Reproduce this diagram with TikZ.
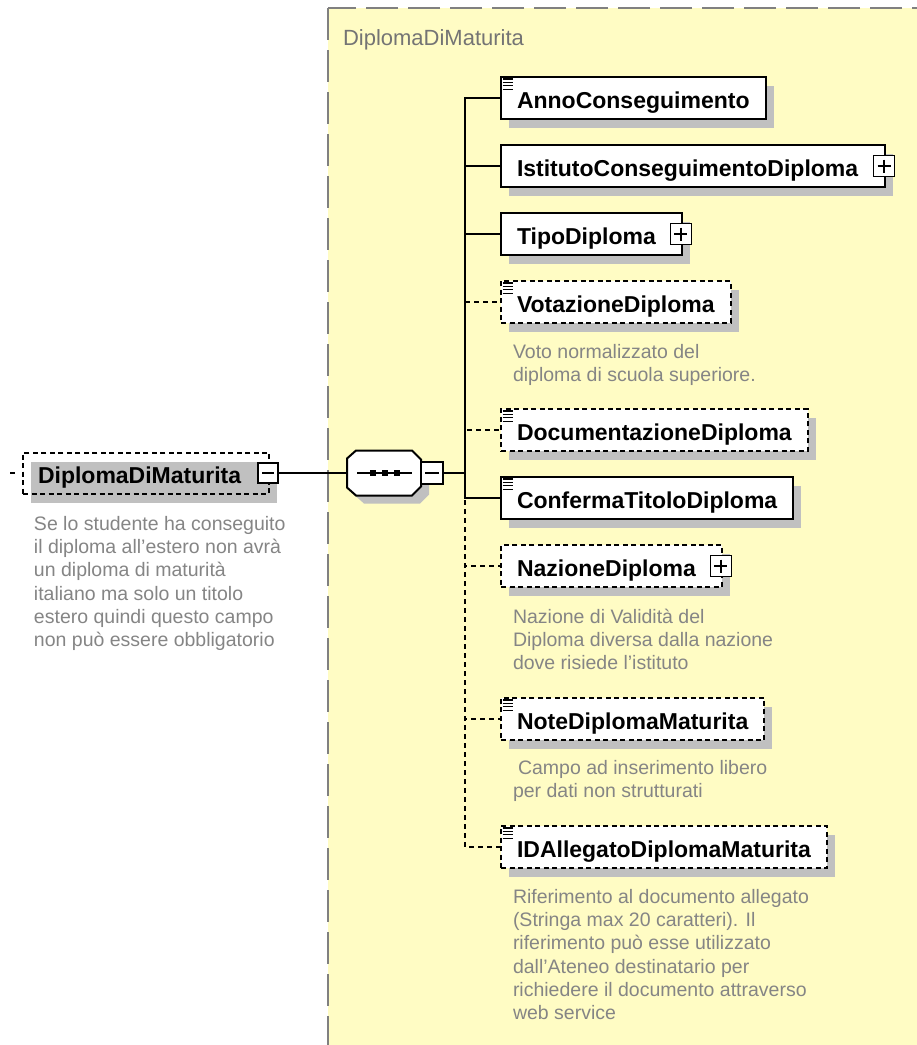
\documentclass[tikz,border=0pt]{standalone}
\usepackage{fontspec}
\setmainfont{Liberation Sans}
\usetikzlibrary{positioning,shadows}

\definecolor{boxyellow}{HTML}{FFFCC4}
\definecolor{shadowgray}{HTML}{C0C0C0}
\definecolor{descgray}{HTML}{858585}
\definecolor{framegray}{HTML}{808080}
\definecolor{titlegray}{HTML}{747474}

% little "documented" mark in the upper left corner of an element
\newcommand{\docicon}[1]{%
  \foreach \k in {0,...,3}
    \draw[line width=1.2pt] ([shift={(2.5,3+3.4*\k)}]#1.north west) -- ++(10,0);}

\begin{document}
\begin{tikzpicture}[x=1pt, y=-1pt, line width=2pt,
    elem/.style={draw, fill=white, anchor=west, minimum height=42pt,
      inner xsep=16pt, inner ysep=0pt, text height=20pt, text depth=0pt,
      font=\fontsize{23}{23}\selectfont\bfseries,
      general shadow={fill=shadowgray, shadow xshift=8pt, shadow yshift=-9pt}},
    optelem/.style={elem, dash pattern=on 5pt off 3.5pt},
    plusbox/.style={draw, fill=white, minimum size=21pt, inner sep=0pt, line width=1.5pt,
      path picture={
        \draw[line width=1.5pt] ([xshift=4pt]path picture bounding box.west) -- ([xshift=-4pt]path picture bounding box.east);
        \draw[line width=1.5pt] ([yshift=-4pt]path picture bounding box.north) -- ([yshift=4pt]path picture bounding box.south);}},
    minusbox/.style={draw, fill=white, minimum size=21pt, inner sep=0pt, line width=1.5pt,
      path picture={
        \draw[line width=1.5pt] ([xshift=4pt]path picture bounding box.west) -- ([xshift=-4pt]path picture bounding box.east);}},
    desc/.style={anchor=north west, inner sep=0pt, align=left, text=descgray,
      font=\fontsize{19.5}{23.3}\selectfont},
    boxtitle/.style={anchor=base west, inner sep=0pt, text=titlegray,
      font=\fontsize{22}{22}\selectfont}]

  \useasboundingbox (0,0) rectangle (917,1045);
  \fill[white] (0,0) rectangle (917,1045);
  \clip (0,0) rectangle (917,1045);

  % content model box
  \draw[framegray, fill=boxyellow, dash pattern=on 32pt off 10pt] (328,8) rectangle (950,1080);
  \node[boxtitle] (title) at (342,45) {DiplomaDiMaturita};

  % the element itself
  \coordinate (instub) at (10,473);
  \node[elem, fill=none, dash pattern=on 5pt off 3.5pt, minimum height=41pt, inner xsep=15pt] (main) at (22,473) {DiplomaDiMaturita\kern13pt};
  \node[minusbox, minimum size=20pt] (mainminus) at ([xshift=-2pt]main.east) {};
  \draw[dash pattern=on 5pt off 7pt] (instub) -- (main.west);
  \node[desc] (maindesc) at (33,515) {Se lo studente ha conseguito\\il diploma all'estero non avrà\\un diploma di maturità\\italiano ma solo un titolo\\estero quindi questo campo\\non può essere obbligatorio};

  % sequence
  \node[minimum width=74pt, minimum height=45pt, inner sep=0pt] (seq) at (384,473) {};
  \begin{scope}[shift={(seq.center)}]
    \filldraw[fill=white, general shadow={fill=shadowgray, shadow xshift=8pt, shadow yshift=-8pt}]
      (-28,-22.5) -- (28,-22.5) -- (37,-13.5) -- (37,13.5) -- (28,22.5)
      -- (-28,22.5) -- (-37,14.5) -- (-37,-14.5) -- cycle;
    \draw (-27,0) -- (28,0);
    \foreach \dx in {-11,1,13}
      \fill (\dx-3,-3) rectangle (\dx+3,3);
  \end{scope}
  \node[minusbox, minimum size=22pt] (seqminus) at (432,473) {};
  \coordinate (spine) at (465,473);
  \draw (mainminus.east) -- (seq.west);
  \draw (seqminus.east) -- (spine);

  % children
  \node[elem] (anno) at (500,98) {AnnoConseguimento};
  \node[elem] (ist) at (500,166) {IstitutoConseguimentoDiploma\kern11pt};
  \node[elem] (tipo) at (500,234) {TipoDiploma\kern10pt};
  \node[optelem] (vot) at (500,302) {VotazioneDiploma};
  \node[optelem] (doc) at (500,430) {DocumentazioneDiploma};
  \node[elem] (conf) at (500,498) {ConfermaTitoloDiploma};
  \node[optelem] (naz) at (500,566) {NazioneDiploma\kern10pt};
  \node[optelem] (note) at (500,719) {NoteDiplomaMaturita};
  \node[optelem] (ida) at (500,847) {IDAllegatoDiplomaMaturita};

  \node[plusbox] (istplus) at ([xshift=-2pt]ist.east) {};
  \node[plusbox] (tipoplus) at ([xshift=-2pt]tipo.east) {};
  \node[plusbox] (nazplus) at ([xshift=-2pt]naz.east) {};

  \docicon{anno} \docicon{vot} \docicon{doc}
  \docicon{conf} \docicon{note} \docicon{ida}

  % optional ones first, the solid lines go over them
  \foreach \n in {vot,doc,naz,note,ida}
    \draw[dash pattern=on 5pt off 4pt] (spine) |- (\n.west);
  \foreach \n in {anno,ist,tipo,conf}
    \draw (spine) |- (\n.west);

  \node[desc] (votdesc) at (512,343) {Voto normalizzato del\\diploma di scuola superiore.};
  \node[desc] (nazdesc) at (512,608) {Nazione di Validità del\\Diploma diversa dalla nazione\\dove risiede l'istituto};
  \node[desc] (notedesc) at (512,759) {\hspace*{5pt}Campo ad inserimento libero\\per dati non strutturati};
  \node[desc] (idadesc) at (512,888) {Riferimento al documento allegato\\(Stringa max 20 caratteri). Il\\riferimento può esse utilizzato\\dall'Ateneo destinatario per\\richiedere il documento attraverso\\web service};

\end{tikzpicture}
\end{document}
